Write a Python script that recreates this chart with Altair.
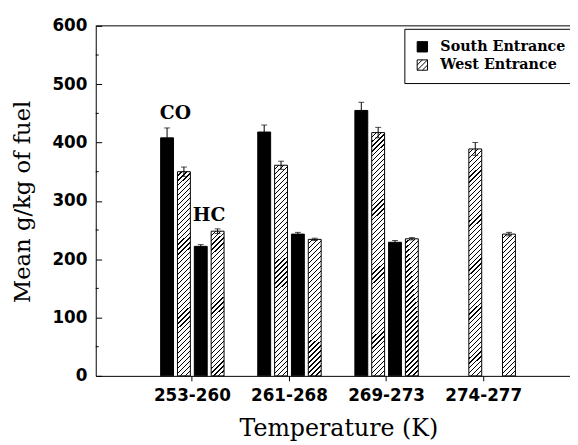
import altair as alt
import pandas as pd

# ---- data ----
groups = ["253-260", "261-268", "269-273", "274-277"]
entrances = ["South Entrance", "West Entrance"]
south_co = [408, 418, 455, None]
west_co = [350, 361, 417, 389]
south_hc = [222, 243, 229, None]
west_hc = [248, 234, 235, 243]
south_co_err = [17, 12, 14, None]
west_co_err = [8, 7, 9, 11]
south_hc_err = [3, 3, 3, None]
west_hc_err = [4, 2, 2, 3]
y_ticks = [0, 100, 200, 300, 400, 500, 600]
y_minor = [50, 150, 250, 350, 450, 550]
labels = ["CO", "HC"]
label_groups = ["253-260", "253-260"]
label_slots = ["CO-South", "HC-South"]
label_y = [451, 276]

slots = ["CO-South", "CO-West", "HC-South", "HC-West"]
series = [
    ("CO-South", "South Entrance", south_co, south_co_err),
    ("CO-West", "West Entrance", west_co, west_co_err),
    ("HC-South", "South Entrance", south_hc, south_hc_err),
    ("HC-West", "West Entrance", west_hc, west_hc_err),
]
rows = []
for slot, ent, vals, errs in series:
    for g, v, e in zip(groups, vals, errs):
        if v is None:
            continue
        rows.append({"group": g, "slot": slot, "entrance": ent, "value": v,
                     "lo": v - e, "hi": v + e})
df = pd.DataFrame(rows)

# ---- layout ----
PLOT_W, PLOT_H = 481, 355
BAR_W = 13
PERIOD = 5.0  # hatch period in px (horizontal)
WHITE_FRAC = 0.76


def hatch(value):
    w = BAR_W
    h = value * PLOT_H / 600.0
    k = (w + h) / (w * w + h * h)
    n = max(1, int(round((w + h) / PERIOD)))
    stops = []
    for i in range(n):
        a, b, c = i / n, (i + WHITE_FRAC) / n, (i + 1) / n
        stops += [{"offset": a, "color": "white"}, {"offset": b, "color": "white"},
                  {"offset": b, "color": "black"}, {"offset": c, "color": "black"}]
    return {"gradient": "linear", "x1": 0, "y1": 0, "x2": k * w, "y2": k * h,
            "stops": stops}


conds = []
for r in rows:
    if r["entrance"] == "West Entrance":
        conds.append({"test": f"datum.group === '{r['group']}' && datum.slot === '{r['slot']}'",
                      "value": hatch(r["value"])})

x_scale = alt.Scale(domain=groups, paddingInner=0, paddingOuter=0.4416, align=0.56)
x_axis = alt.Axis(labelAngle=0, tickSize=5, labelPadding=7, labelFont="DejaVu Sans",
                  labelFontWeight="bold", labelFontSize=17, titleFont="DejaVu Serif",
                  titleFontSize=24, titleFontWeight="normal", titleX=246, titleY=60,
                  titleBaseline="alphabetic", domainColor="black", tickColor="black",
                  labelColor="black", titleColor="black", grid=False)
y_scale = alt.Scale(domain=[0, 600], nice=False, zero=True)
y_axis = alt.Axis(values=y_ticks, tickSize={"expr": "-6"}, labelPadding=15,
                  labelFont="DejaVu Sans", labelFontWeight="bold", labelFontSize=17,
                  titleFont="DejaVu Serif", titleFontSize=23, titleFontWeight="normal",
                  titleX=-67, titleY=178, titleBaseline="alphabetic",
                  domainColor="black", tickColor="black", labelColor="black",
                  titleColor="black", grid=False)

X = alt.X("group:N", scale=x_scale, axis=x_axis, title="Temperature (K)")
XO = alt.XOffset("slot:N", scale=alt.Scale(domain=slots, paddingInner=0.235, paddingOuter=1))
YT = "Mean g/kg of fuel"

bars = alt.Chart(df).mark_bar(stroke="black", strokeWidth=1).encode(
    x=X, xOffset=XO,
    y=alt.Y("value:Q", scale=y_scale, axis=y_axis, title=YT),
    fill=alt.Fill("entrance:N",
                  scale=alt.Scale(domain=entrances, range=["black", "white"]),
                  legend=alt.Legend(orient="none", legendX=313, legendY=3, title=None,
                                    strokeColor="black", fillColor="white", padding=11,
                                    symbolType="M-1,-1H1V1H-1Z M-1,0L0,-1 M-1,1L1,-1 M0,1L1,0",
                                    symbolSize=110, symbolStrokeWidth=1,
                                    symbolStrokeColor="black",
                                    labelFont="DejaVu Serif", labelFontWeight="bold",
                                    labelFontSize=14.5, labelColor="black",
                                    labelOffset=11, rowPadding=2.5),
                  condition=conds),
)

err = alt.Chart(df).mark_rule(color="black", strokeWidth=1).encode(
    x=X, xOffset=XO,
    y=alt.Y("lo:Q", scale=y_scale, axis=y_axis, title=YT), y2="hi:Q")
cap_hi = alt.Chart(df).mark_tick(color="black", thickness=1, size=6).encode(
    x=X, xOffset=XO, y=alt.Y("hi:Q", scale=y_scale, axis=y_axis, title=YT))
cap_lo = alt.Chart(df).mark_tick(color="black", thickness=1, size=6).encode(
    x=X, xOffset=XO, y=alt.Y("lo:Q", scale=y_scale, axis=y_axis, title=YT))

lab_df = pd.DataFrame({"label": labels, "group": label_groups, "slot": label_slots,
                       "value": label_y})
texts = alt.Chart(lab_df).mark_text(font="DejaVu Serif", fontSize=19, fontWeight="bold",
                                    color="black", dx=8.5, baseline="middle").encode(
    x=X, xOffset=XO, y=alt.Y("value:Q", scale=y_scale, axis=y_axis, title=YT),
    text="label:N")

top_df = pd.DataFrame({"value": [y_ticks[-1]]})
top = alt.Chart(top_df).mark_rule(color="black", strokeWidth=1).encode(
    y=alt.Y("value:Q", scale=y_scale, axis=y_axis, title=YT))

minor_df = pd.DataFrame({"value": y_minor})
minor = alt.Chart(minor_df).mark_rule(color="black", strokeWidth=1).encode(
    x=alt.value(0), x2=alt.value(3),
    y=alt.Y("value:Q", scale=y_scale, axis=y_axis, title=YT))

chart = alt.layer(bars, err, cap_hi, cap_lo, texts, top, minor).properties(
    width=PLOT_W, height=PLOT_H,
    autosize=alt.AutoSizeParams(type="none"),
    padding={"left": 89, "top": 15, "right": 0, "bottom": 67},
    background="white",
).configure_view(stroke=None)

chart.save("out.html", embed_options={"renderer": "svg", "actions": False})
